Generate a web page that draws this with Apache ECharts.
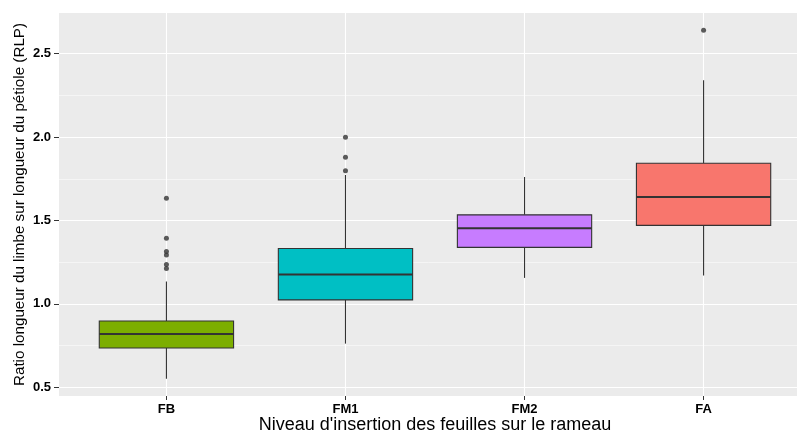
<!DOCTYPE html>
<html>
<head>
<meta charset="utf-8">
<script src="https://cdn.jsdelivr.net/npm/echarts@6/dist/echarts.min.js"></script>
<style>html,body{margin:0;padding:0;background:#fff}#c{width:797px;height:432px}</style>
</head>
<body>
<div id="c"></div>
<script>
const categories = ['FB', 'FM1', 'FM2', 'FA'];
const colors = ['#7CAE00', '#00BFC4', '#C77CFF', '#F8766D'];
const lowerWhisker = [0.552, 0.762, 1.156, 1.171];
const q1 = [0.736, 1.024, 1.339, 1.471];
const median = [0.820, 1.176, 1.453, 1.641];
const q3 = [0.898, 1.332, 1.534, 1.843];
const upperWhisker = [1.135, 1.773, 1.761, 2.341];
const outliersFB = [1.633, 1.393, 1.314, 1.294, 1.236, 1.213];
const outliersFM1 = [1.999, 1.879, 1.799];
const outliersFM2 = [];
const outliersFA = [2.640];
const yTicks = [0.5, 1.0, 1.5, 2.0, 2.5];
const yMinor = [0.75, 1.25, 1.75, 2.25];

const outlierGroups = [outliersFB, outliersFM1, outliersFM2, outliersFA];
const boxData = categories.map((c, i) => [i + 1, lowerWhisker[i], q1[i], median[i], q3[i], upperWhisker[i]]);
const outlierData = [];
outlierGroups.forEach((g, i) => g.forEach(v => outlierData.push([i + 1, v])));

const BOX_W = 0.75;
function renderBox(params, api) {
  const x = api.value(0);
  const pLw = api.coord([x, api.value(1)]);
  const pQ1 = api.coord([x, api.value(2)]);
  const pMed = api.coord([x, api.value(3)]);
  const pQ3 = api.coord([x, api.value(4)]);
  const pUw = api.coord([x, api.value(5)]);
  const half = api.size([BOX_W, 0])[0] / 2;
  const cx = pMed[0];
  const stroke = { stroke: '#333333', lineWidth: 1.1 };
  return {
    type: 'group',
    children: [
      { type: 'line', shape: { x1: cx, y1: pUw[1], x2: cx, y2: pQ3[1] }, style: stroke },
      { type: 'line', shape: { x1: cx, y1: pQ1[1], x2: cx, y2: pLw[1] }, style: stroke },
      { type: 'rect', shape: { x: cx - half, y: pQ3[1], width: 2 * half, height: pQ1[1] - pQ3[1] },
        style: { fill: colors[params.dataIndex], stroke: '#333333', lineWidth: 1.1 } },
      { type: 'line', shape: { x1: cx - half, y1: pMed[1], x2: cx + half, y2: pMed[1] },
        style: { stroke: '#333333', lineWidth: 2 } }
    ]
  };
}

const chart = echarts.init(document.getElementById('c'));
chart.setOption({
  animation: false,
  grid: {
    left: 59, top: 13, bottom: 36, width: 752,
    show: true, backgroundColor: '#EBEBEB', borderWidth: 0,
    containLabel: false, outerBoundsMode: 'none'
  },
  xAxis: {
    type: 'value', min: 0.4, max: 4.6,
    name: "Niveau d'insertion des feuilles sur le rameau",
    nameLocation: 'middle', nameGap: 20, nameMoveOverlap: false,
    nameTextStyle: { color: '#000', fontSize: 18, fontFamily: 'Liberation Sans' },
    axisLine: { show: false },
    axisTick: { show: true, customValues: [1, 2, 3, 4], length: 4, lineStyle: { color: '#333', width: 1 } },
    axisLabel: {
      customValues: [1, 2, 3, 4], margin: 7,
      formatter: v => categories[Math.round(v) - 1],
      color: '#000', fontWeight: 'bold', fontSize: 13, fontFamily: 'Liberation Sans'
    },
    splitLine: { show: true, lineStyle: { color: '#fff', width: 1.1 } }
  },
  yAxis: [{
    type: 'value', min: 0.448, max: 2.744,
    name: 'Ratio longueur du limbe sur longueur du pétiole (RLP)',
    nameLocation: 'middle', nameGap: 32, nameMoveOverlap: false,
    nameTextStyle: { color: '#000', fontSize: 15.2, fontFamily: 'Liberation Sans' },
    axisLine: { show: false },
    axisTick: { show: true, customValues: yTicks, length: 5, lineStyle: { color: '#333', width: 1 } },
    axisLabel: {
      customValues: yTicks, margin: 8,
      formatter: v => v.toFixed(1),
      color: '#000', fontWeight: 'bold', fontSize: 13, fontFamily: 'Liberation Sans'
    },
    splitLine: { show: true, lineStyle: { color: '#fff', width: 1.1 } }
  }, {
    type: 'value', min: 0.448, max: 2.744, position: 'left',
    axisLine: { show: false },
    axisTick: { show: false, customValues: yMinor },
    axisLabel: { show: false, customValues: yMinor },
    splitLine: { show: true, lineStyle: { color: '#fff', width: 0.5 } }
  }],
  series: [{
    type: 'custom',
    renderItem: renderBox,
    data: boxData,
    encode: { x: 0, y: [1, 2, 3, 4, 5] },
    z: 3
  }, {
    type: 'scatter',
    data: outlierData,
    symbol: 'circle', symbolSize: 5,
    itemStyle: { color: '#333333' },
    z: 4
  }]
});
</script>
</body>
</html>
